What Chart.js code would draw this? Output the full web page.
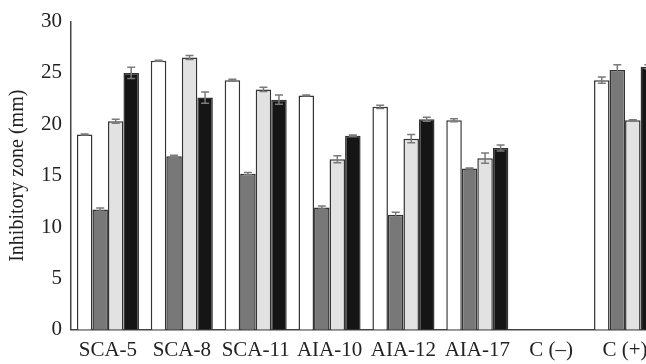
<!DOCTYPE html>
<html>
<head>
<meta charset="utf-8">
<script src="https://cdn.jsdelivr.net/npm/chart.js@4"></script>
<style>
  html, body { margin: 0; padding: 0; background: #fff; overflow: hidden; }
  #wrap { width: 662px; height: 371px; }
</style>
</head>
<body>
<div id="wrap"><canvas id="zoneChart"></canvas></div>
<script>
// categories and values
var categories = ["SCA-5", "SCA-8", "SCA-11", "AIA-10", "AIA-12", "AIA-17", "C (\u2013)", "C (+)"];

var series1 = [19.0, 26.2, 24.3, 22.8, 21.7, 20.4, 0, 24.3];
var series2 = [11.7, 16.9, 15.2, 11.9, 11.2, 15.7, 0, 25.3];
var series3 = [20.3, 26.5, 23.4, 16.6, 18.6, 16.7, 0, 20.4];
var series4 = [25.0, 22.6, 22.4, 18.9, 20.5, 17.7, 0, 25.6];

var err1 = [0.05, 0.05, 0.1, 0.05, 0.15, 0.15, 0, 0.3];
var err2 = [0.15, 0.1, 0.1, 0.15, 0.25, 0.05, 0, 0.5];
var err3 = [0.2, 0.2, 0.2, 0.35, 0.4, 0.5, 0, 0.05];
var err4 = [0.55, 0.55, 0.45, 0.05, 0.2, 0.3, 0, 0.2];

var yTicks = [0, 5, 10, 15, 20, 25, 30];

// simple error bar drawing using the bar elements
var errorBars = {
    id: 'errorBars',
    afterDatasetsDraw: function(chart) {
        var ctx = chart.ctx;
        var y = chart.scales.y;
        ctx.save();
        ctx.strokeStyle = '#7a7a7a';
        ctx.lineWidth = 1.5;
        chart.data.datasets.forEach(function(ds, di) {
            var meta = chart.getDatasetMeta(di);
            meta.data.forEach(function(bar, i) {
                var e = ds.errors[i];
                var v = ds.data[i];
                if (!e || !v) return;
                var top = y.getPixelForValue(v + e);
                var bot = y.getPixelForValue(v - e);
                var cap = 4;
                ctx.beginPath();
                ctx.moveTo(bar.x, top);
                ctx.lineTo(bar.x, bot);
                ctx.moveTo(bar.x - cap, top);
                ctx.lineTo(bar.x + cap, top);
                ctx.moveTo(bar.x - cap, bot);
                ctx.lineTo(bar.x + cap, bot);
                ctx.stroke();
            });
        });
        ctx.restore();
    }
};

function makeSet(data, errs, color) {
    return {
        data: data,
        errors: errs,
        backgroundColor: color,
        borderColor: '#333333',
        borderWidth: 1.5,
        borderSkipped: 'bottom'
    };
}

var ctx = document.getElementById('zoneChart').getContext('2d');
var zoneChart = new Chart(ctx, {
    type: 'bar',
    data: {
        labels: categories,
        datasets: [
            makeSet(series1, err1, '#ffffff'),
            makeSet(series2, err2, '#787878'),
            makeSet(series3, err3, '#e2e2e2'),
            makeSet(series4, err4, '#151515')
        ]
    },
    options: {
        responsive: true,
        maintainAspectRatio: false,
        animation: false,
        categoryPercentage: 0.84,
        barPercentage: 1.0,
        layout: { padding: { top: 19, left: 6, right: 0, bottom: 0 } },
        plugins: {
            legend: { display: false },
            tooltip: { enabled: false }
        },
        scales: {
            x: {
                grid: { display: false, drawTicks: false },
                border: { color: '#444444', width: 1.5 },
                ticks: {
                    color: '#222222',
                    padding: 8,
                    maxRotation: 0,
                    autoSkip: false,
                    font: { family: 'Liberation Serif', size: 21 }
                }
            },
            y: {
                min: 0,
                max: 30,
                afterBuildTicks: function(axis) {
                    axis.ticks = yTicks.map(function(v) { return { value: v }; });
                },
                grid: { display: false, drawTicks: false },
                border: { color: '#444444', width: 1.5 },
                ticks: {
                    color: '#222222',
                    padding: 9,
                    font: { family: 'Liberation Serif', size: 21 }
                },
                title: {
                    display: true,
                    text: 'Inhibitory zone (mm)',
                    color: '#222222',
                    padding: { top: 0, bottom: 2 },
                    font: { family: 'Liberation Serif', size: 20 }
                }
            }
        }
    },
    plugins: [errorBars]
});
</script>
</body>
</html>
